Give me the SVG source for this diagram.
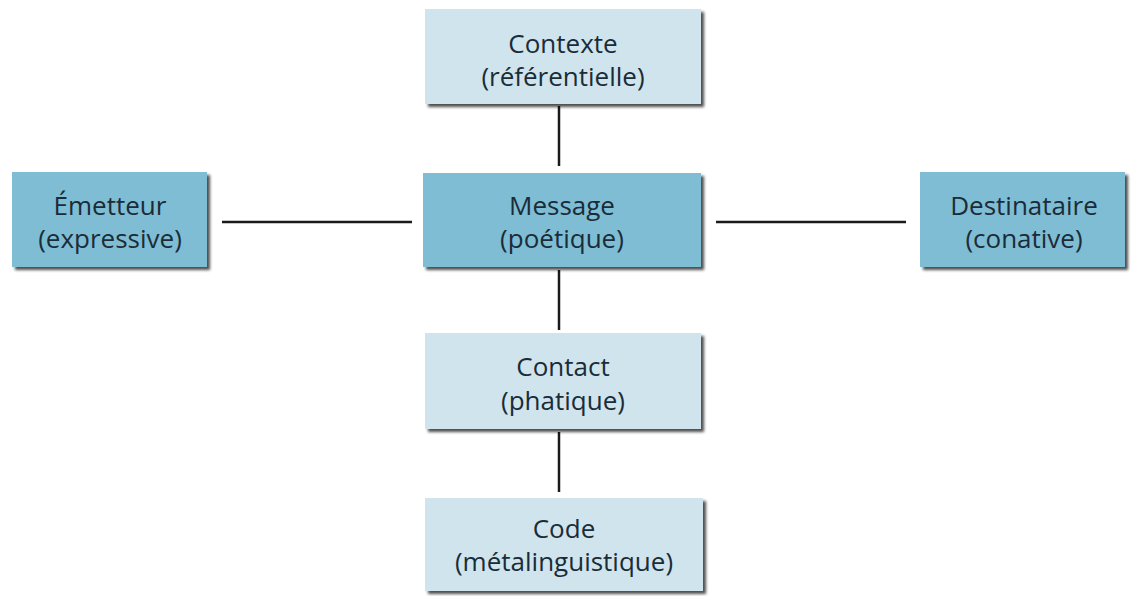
<svg xmlns="http://www.w3.org/2000/svg" width="1141" height="596" viewBox="0 0 1141 596">
<defs>
<filter id="sh" x="-10%" y="-10%" width="130%" height="130%">
<feGaussianBlur in="SourceAlpha" stdDeviation="1.5"/>
<feOffset dx="3" dy="3" result="b"/>
<feComponentTransfer><feFuncA type="linear" slope="0.7"/></feComponentTransfer>
<feMerge><feMergeNode/><feMergeNode in="SourceGraphic"/></feMerge>
</filter>
</defs>
<style>
.light{fill:#cfe4ec;filter:url(#sh)}
.dark{fill:#7fbdd4;filter:url(#sh)}
text{font-family:"Open Sans","DejaVu Sans",sans-serif;font-size:26px;fill:#1a2c38;text-anchor:middle}
.c line{stroke:#1a1a1a;stroke-width:2.5}
</style>
<rect width="1141" height="596" fill="#ffffff"/>
<g class="c" id="connectors">
<line x1="559" y1="106" x2="559" y2="166"/>
<line x1="559" y1="270" x2="559" y2="330"/>
<line x1="559" y1="432" x2="559" y2="492"/>
<line x1="222" y1="222" x2="412" y2="222"/>
<line x1="716" y1="222" x2="906" y2="222"/>
</g>
<g id="contexte"><rect class="light" x="425" y="9" width="276" height="95"/><text x="563" y="53">Contexte</text><text x="563" y="86">(référentielle)</text></g>
<g id="emetteur"><rect class="dark" x="12" y="172" width="195" height="95"/><text x="110" y="215">Émetteur</text><text x="110" y="248">(expressive)</text></g>
<g id="message"><rect class="dark" x="423" y="173" width="278" height="94"/><text x="562" y="215">Message</text><text x="562" y="248">(poétique)</text></g>
<g id="destinataire"><rect class="dark" x="920" y="172" width="205" height="95"/><text x="1024" y="215">Destinataire</text><text x="1024" y="248">(conative)</text></g>
<g id="contact"><rect class="light" x="425" y="333" width="276" height="96"/><text x="563" y="376">Contact</text><text x="563" y="410">(phatique)</text></g>
<g id="code"><rect class="light" x="425" y="498" width="278" height="93"/><text x="564" y="538">Code</text><text x="564" y="571">(métalinguistique)</text></g>
</svg>
